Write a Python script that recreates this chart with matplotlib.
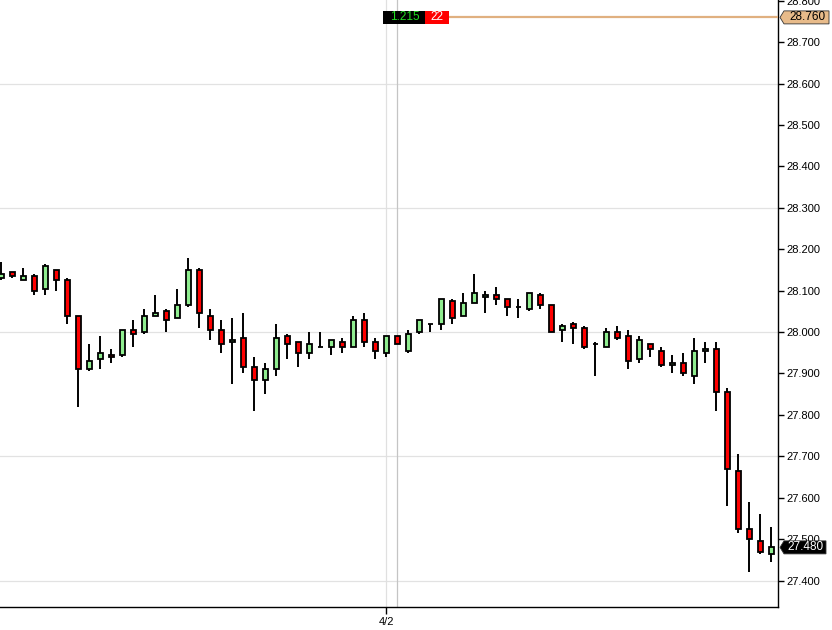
import matplotlib
matplotlib.use('Agg')
import matplotlib.pyplot as plt
from matplotlib.patches import Polygon, Rectangle
from matplotlib.transforms import IdentityTransform
import numpy as np

plt.rcParams['font.family'] = ['Liberation Sans', 'DejaVu Sans']

# ---- data (OHLC per bar) ----
opens = [28.130, 28.145, 28.125, 28.135, 28.105, 28.150, 28.125, 28.040, 27.910, 27.935,
         27.945, 27.945, 28.005, 28.000, 28.040, 28.050, 28.035, 28.065, 28.150, 28.040,
         28.005, 27.975, 27.985, 27.915, 27.885, 27.910, 27.990, 27.975, 27.950, 27.965,
         27.965, 27.975, 27.965, 28.030, 27.975, 27.950, 27.990, 27.955, 28.000, 28.020,
         28.020, 28.075, 28.040, 28.070, 28.085, 28.090, 28.080, 28.060, 28.055, 28.090,
         28.065, 28.005, 28.020, 28.010, 27.970, 27.965, 28.000, 27.990, 27.935, 27.970,
         27.955, 27.920, 27.925, 27.895, 27.955, 27.960, 27.855, 27.665, 27.525, 27.495,
         27.465]
highs = [28.170, 28.145, 28.155, 28.140, 28.165, 28.150, 28.130, 28.040, 27.970, 27.990,
         27.960, 28.005, 28.030, 28.055, 28.090, 28.055, 28.105, 28.180, 28.155, 28.055,
         28.030, 28.035, 28.045, 27.940, 27.925, 28.020, 27.995, 27.975, 28.000, 28.000,
         27.980, 27.985, 28.040, 28.045, 27.985, 27.990, 27.990, 28.005, 28.030, 28.020,
         28.080, 28.080, 28.095, 28.140, 28.100, 28.110, 28.080, 28.080, 28.095, 28.095,
         28.065, 28.020, 28.025, 28.015, 27.975, 28.010, 28.015, 28.005, 27.990, 27.970,
         27.965, 27.945, 27.950, 27.985, 27.975, 27.975, 27.865, 27.705, 27.590, 27.560,
         27.530]
lows = [28.125, 28.130, 28.125, 28.090, 28.090, 28.100, 28.020, 27.820, 27.905, 27.910,
        27.925, 27.940, 27.965, 27.995, 28.040, 28.000, 28.035, 28.060, 28.010, 27.980,
        27.950, 27.875, 27.900, 27.810, 27.850, 27.895, 27.935, 27.915, 27.935, 27.965,
        27.945, 27.950, 27.965, 27.965, 27.935, 27.940, 27.970, 27.950, 27.995, 28.000,
        28.005, 28.020, 28.040, 28.070, 28.045, 28.065, 28.040, 28.035, 28.050, 28.055,
        28.000, 27.975, 27.970, 27.960, 27.895, 27.965, 27.980, 27.910, 27.925, 27.940,
        27.915, 27.900, 27.895, 27.875, 27.925, 27.810, 27.580, 27.515, 27.420, 27.465,
        27.445]
closes = [28.140, 28.135, 28.135, 28.100, 28.160, 28.125, 28.040, 27.910, 27.930, 27.950,
          27.940, 28.005, 27.995, 28.040, 28.045, 28.030, 28.065, 28.150, 28.045, 28.005,
          27.970, 27.980, 27.915, 27.885, 27.910, 27.985, 27.970, 27.950, 27.970, 27.965,
          27.980, 27.965, 28.030, 27.975, 27.955, 27.990, 27.970, 27.995, 28.030, 28.020,
          28.080, 28.035, 28.070, 28.095, 28.090, 28.080, 28.060, 28.060, 28.095, 28.065,
          28.000, 28.015, 28.010, 27.965, 27.970, 28.000, 27.985, 27.930, 27.980, 27.960,
          27.920, 27.925, 27.900, 27.955, 27.960, 27.855, 27.670, 27.525, 27.500, 27.470,
          27.480]

date_tick_index = 35
date_tick_label = '4/2'
crosshair_index = 36
crosshair_value = '1.215'
crosshair_count = '22'
hline_price = 28.760
last_price = closes[-1]
grid_prices = [27.4, 27.7, 28.0, 28.3, 28.6]
ytick_prices = [27.4, 27.5, 27.6, 27.7, 27.8, 27.9, 28.0, 28.1, 28.2, 28.3, 28.4, 28.5, 28.6, 28.7, 28.8]

# ---- figure ----
W, H = 832, 630
fig = plt.figure(figsize=(W / 100, H / 100), dpi=100)
fig.patch.set_facecolor('white')
ax = fig.add_axes([0, 23 / H, 778 / W, 607 / H])
n = len(opens)
x = np.arange(n)
ax.set_xlim(-0.118, 70.61)
ax.set_ylim(27.336, 28.802)

for g in grid_prices:
    ax.axhline(g, color='#e2e2e2', lw=0.9, zorder=0)
ax.axvline(date_tick_index, color='#e0e0e0', lw=0.9, zorder=0)
ax.axvline(crosshair_index, color='#c4c4c4', lw=0.9, zorder=0)

o = np.array(opens); c = np.array(closes); hi = np.array(highs); lo = np.array(lows)
ax.vlines(x, lo, hi, color='black', lw=1.4, zorder=2)
cols = ['#90ee90' if cc > oo else ('#ff0000' if cc < oo else 'black') for oo, cc in zip(o, c)]
ax.bar(x, np.abs(c - o), bottom=np.minimum(o, c), width=0.46, color=cols,
       edgecolor='black', linewidth=1.3, zorder=3)

# axes styling
for s in ['left', 'top']:
    ax.spines[s].set_visible(False)
ax.spines['right'].set_color('black')
ax.spines['bottom'].set_color('black')
ax.spines['right'].set_linewidth(1.0)
ax.spines['bottom'].set_linewidth(1.0)
ax.yaxis.tick_right()
ax.set_yticks(ytick_prices)
ax.set_yticklabels([f'{v:.3f}' for v in ytick_prices])
ax.tick_params(axis='y', length=4, width=1, labelsize=8, pad=2, colors='black')
ax.set_xticks([date_tick_index])
ax.set_xticklabels([date_tick_label])
ax.tick_params(axis='x', length=5, width=1, labelsize=8, pad=2)

# ---- overlays in display coords ----
fig.canvas.draw()
T = IdentityTransform()
xr = ax.transAxes.transform((1, 0))[0]
ytop = ax.transAxes.transform((0, 1))[1]

def tag(price, face, tcolor, right):
    yd = ax.transData.transform((0, price))[1]
    verts = [(xr + 2, yd), (xr + 6, yd + 6.5), (xr + right, yd + 6.5),
             (xr + right, yd - 6.5), (xr + 6, yd - 6.5)]
    p = Polygon(verts, closed=True, facecolor=face, edgecolor='#333333', lw=0.6,
                transform=T, clip_on=False, zorder=10)
    fig.add_artist(p)
    fig.text((xr + (6 + right) / 2 + 0.5) / W, yd / H, f'{price:.3f}', color=tcolor,
             fontsize=8.5, ha='center', va='center', zorder=11)

# horizontal tan line
cx = ax.transData.transform((crosshair_index, 0))[0]
x_start = ax.transData.inverted().transform((cx + 52, 0))[0]
ax.hlines(hline_price, x_start, ax.get_xlim()[1], color='#e0b080', lw=1.6, zorder=4)

tag(hline_price, '#e8bb8a', 'black', 51)
tag(last_price, 'black', 'white', 48)

# crosshair header boxes
b_top = ytop - 10.5
b_h = 13
fig.add_artist(Rectangle((cx - 14, b_top - b_h), 42, b_h, facecolor='black', edgecolor='none',
                         transform=T, zorder=10))
fig.add_artist(Rectangle((cx + 28, b_top - b_h), 24, b_h, facecolor='#ff0000', edgecolor='none',
                         transform=T, zorder=10))
fig.text((cx + 7.5) / W, (b_top - b_h / 2) / H, crosshair_value, color='#22dd22', fontsize=8.5,
         ha='center', va='center', zorder=11)
fig.text((cx + 40) / W, (b_top - b_h / 2) / H, crosshair_count, color='white', fontsize=8.5,
         ha='center', va='center', zorder=11)

fig.savefig('out.png', dpi=100)
